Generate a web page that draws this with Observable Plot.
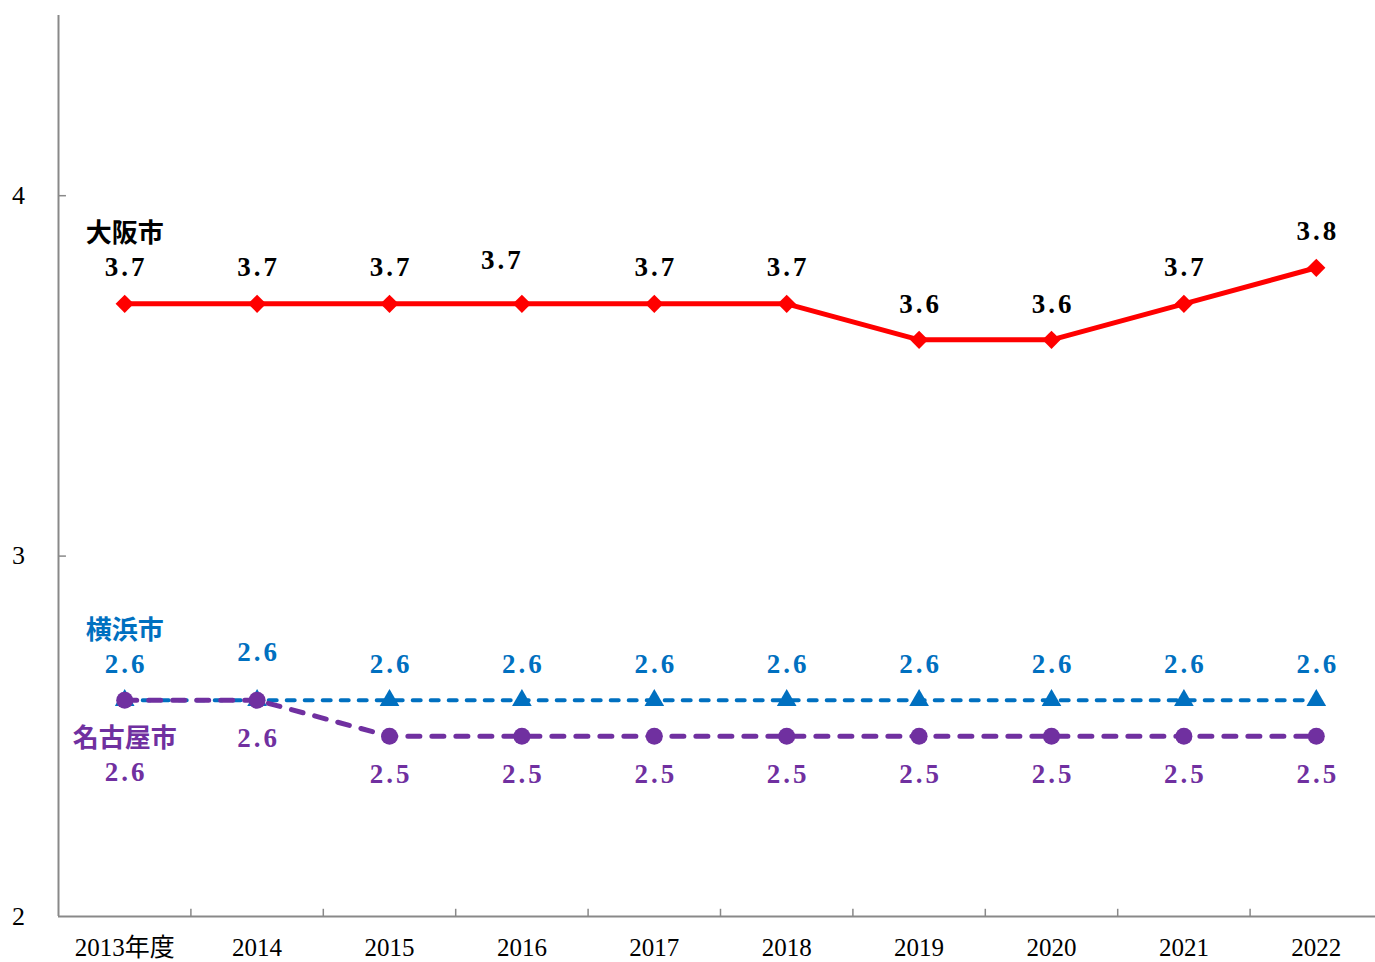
<!DOCTYPE html>
<html>
<head>
<meta charset="utf-8">
<script src="https://cdn.jsdelivr.net/npm/d3@7"></script>
<script src="https://cdn.jsdelivr.net/npm/@observablehq/plot@0.6"></script>
<style>
  html, body { margin: 0; padding: 0; background: #fff; }
  #chart svg { display: block; }
</style>
</head>
<body>
<div id="chart"></div>
<script>
const years = ["2013", "2014", "2015", "2016", "2017", "2018", "2019", "2020", "2021", "2022"];
const tickLabels = ["2013年度", "2014", "2015", "2016", "2017", "2018", "2019", "2020", "2021", "2022"];
const yTicks = [2, 3, 4];
const seriesNames = ["大阪市", "横浜市", "名古屋市"];
const osaka = [3.7, 3.7, 3.7, 3.7, 3.7, 3.7, 3.6, 3.6, 3.7, 3.8];
const yokohama = [2.6, 2.6, 2.6, 2.6, 2.6, 2.6, 2.6, 2.6, 2.6, 2.6];
const nagoya = [2.6, 2.6, 2.5, 2.5, 2.5, 2.5, 2.5, 2.5, 2.5, 2.5];

const rows = years.map((y, i) => ({i, year: y, osaka: osaka[i], yokohama: yokohama[i], nagoya: nagoya[i]}));
const bounds = d3.range(0.5, years.length - 1, 1);

const RED = "#FF0000", BLUE = "#0070C0", PURPLE = "#7030A0", AXIS = "#898989";
const numFont = "Liberation Serif, DejaVu Serif, serif";
const cjkFont = "Noto Sans CJK JP, sans-serif";
const valStyle = {fontFamily: numFont, fontSize: 27, fontWeight: "bold"};
const nameStyle = {fontFamily: cjkFont, fontSize: 26, fontWeight: "bold"};
const LS = 1.5; // compensation for trailing letter-spacing

const chart = Plot.plot({
  width: 1375,
  height: 962,
  marginLeft: 58,
  marginRight: 0,
  marginTop: 15,
  marginBottom: 46,
  x: {type: "linear", domain: [-0.5, 9.5], range: [58, 1382], axis: null},
  y: {domain: [2, 4.5], range: [916, 15], axis: null},
  style: {background: "#fff", overflow: "visible"},
  marks: [
    // axes
    Plot.ruleX([-0.5], {stroke: AXIS, strokeWidth: 2}),
    Plot.ruleY([2], {stroke: AXIS, strokeWidth: 2}),
    Plot.ruleX(bounds, {x: d => d, y1: 2, y2: 2.02, stroke: AXIS, strokeWidth: 1.5}),
    Plot.ruleY([3, 4], {y: d => d, x1: -0.5, x2: -0.44, stroke: AXIS, strokeWidth: 1.5}),
    Plot.text(rows, {x: "i", y: 2, dy: 31, text: d => tickLabels[d.i], fontFamily: "Liberation Serif, Noto Sans CJK JP, serif", fontSize: 25, fill: "#000"}),
    Plot.text(yTicks, {x: -0.5, y: d => d, dx: -40, text: d => String(d), fontFamily: numFont, fontSize: 26, fill: "#000"}),

    // Osaka
    Plot.line(rows, {x: "i", y: "osaka", stroke: RED, strokeWidth: 5}),
    Plot.dot(rows, {x: "i", y: "osaka", symbol: "diamond2", r: 8.2, fill: RED, stroke: null}),

    // Yokohama
    Plot.line(rows, {x: "i", y: "yokohama", stroke: BLUE, strokeWidth: 4, strokeDasharray: "8,10", strokeLinecap: "round"}),
    Plot.dot(rows, {x: "i", y: "yokohama", symbol: "triangle", r: 7.3, fill: BLUE, stroke: null}),

    // Nagoya
    Plot.line(rows, {x: "i", y: "nagoya", stroke: PURPLE, strokeWidth: 5, strokeDasharray: "12,12", strokeLinecap: "round"}),
    Plot.dot(rows, {x: "i", y: "nagoya", r: 8.5, fill: PURPLE, stroke: null}),

    // Osaka labels
    Plot.text(rows, {filter: d => d.i !== 3, x: "i", y: "osaka", dx: LS, dy: -36, text: d => d.osaka.toFixed(1), fill: "#000", ...valStyle}),
    Plot.text(rows, {filter: d => d.i === 3, x: "i", y: "osaka", dx: -21 + LS, dy: -43, text: d => d.osaka.toFixed(1), fill: "#000", ...valStyle}),
    Plot.text(rows, {filter: d => d.i === 0, x: "i", y: "osaka", dy: -70, text: () => seriesNames[0], fill: "#000", ...nameStyle}),

    // Yokohama labels
    Plot.text(rows, {filter: d => d.i !== 1, x: "i", y: "yokohama", dx: LS, dy: -36, text: d => d.yokohama.toFixed(1), fill: BLUE, ...valStyle}),
    Plot.text(rows, {filter: d => d.i === 1, x: "i", y: "yokohama", dx: LS, dy: -48, text: d => d.yokohama.toFixed(1), fill: BLUE, ...valStyle}),
    Plot.text(rows, {filter: d => d.i === 0, x: "i", y: "yokohama", dy: -70, text: () => seriesNames[1], fill: BLUE, ...nameStyle}),

    // Nagoya labels
    Plot.text(rows, {filter: d => d.i !== 0, x: "i", y: "nagoya", dx: LS, dy: 38, text: d => d.nagoya.toFixed(1), fill: PURPLE, ...valStyle}),
    Plot.text(rows, {filter: d => d.i === 0, x: "i", y: "nagoya", dx: LS, dy: 72, text: d => d.nagoya.toFixed(1), fill: PURPLE, ...valStyle}),
    Plot.text(rows, {filter: d => d.i === 0, x: "i", y: "nagoya", dy: 38, text: () => seriesNames[2], fill: PURPLE, ...nameStyle})
  ]
});

d3.select(chart).selectAll("text")
  .filter(function() { return /^\d\.\d$/.test(this.textContent); })
  .attr("letter-spacing", "3")
  .style("letter-spacing", "3px");
document.getElementById("chart").appendChild(chart);
</script>
</body>
</html>
